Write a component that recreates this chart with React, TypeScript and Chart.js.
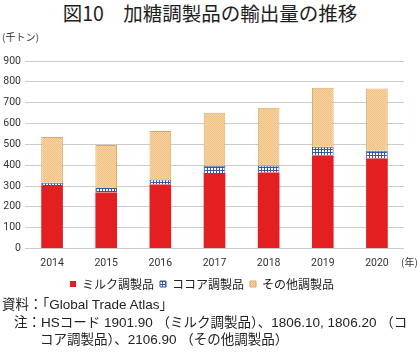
import React, { useEffect, useRef } from "react";
import { Chart, registerables } from "chart.js";

Chart.register(...registerables);

const years = ["2014", "2015", "2016", "2017", "2018", "2019", "2020"];
const milk = [300, 269, 307, 362, 365, 447, 432];
const cocoa = [16, 22, 24, 35, 34, 41, 37];
const other = [219, 206, 233, 255, 277, 284, 299];
const seriesNames = ["ミルク調製品", "ココア調製品", "その他調製品"];
const yTicks = [0, 100, 200, 300, 400, 500, 600, 700, 800, 900];

const JP = '"Noto Sans CJK JP", "Noto Sans", sans-serif';
const NUM = 'Roboto, "Liberation Sans", sans-serif';
const FOOT = '"Liberation Sans", "Noto Sans CJK JP", sans-serif';

function makeCocoaPattern(): CanvasPattern | string {
  const c = document.createElement("canvas");
  c.width = 3;
  c.height = 3;
  const g = c.getContext("2d");
  if (!g) return "#ffffff";
  g.fillStyle = "#ffffff";
  g.fillRect(0, 0, 3, 3);
  g.fillStyle = "#3556a6";
  g.fillRect(0, 0, 3, 1);
  g.fillRect(0, 0, 1, 3);
  return g.createPattern(c, "repeat") || "#ffffff";
}

function makeOtherPattern(): CanvasPattern | string {
  const c = document.createElement("canvas");
  c.width = 2;
  c.height = 2;
  const g = c.getContext("2d");
  if (!g) return "#f5c98c";
  g.fillStyle = "#f8d5a0";
  g.fillRect(0, 0, 2, 2);
  g.fillStyle = "#eec083";
  g.fillRect(0, 0, 1, 1);
  g.fillRect(1, 1, 1, 1);
  return g.createPattern(c, "repeat") || "#f5c98c";
}

function App() {
  const ref = useRef<HTMLCanvasElement | null>(null);

  useEffect(() => {
    if (!ref.current) return;
    const chart = new Chart(ref.current, {
      type: "bar",
      data: {
        labels: years,
        datasets: [
          {
            label: seriesNames[0],
            data: milk,
            backgroundColor: "#e31f21",
            borderColor: "#c8191b",
            borderWidth: 0,
            barPercentage: 0.8,
            categoryPercentage: 0.5,
          },
          {
            label: seriesNames[1],
            data: cocoa,
            backgroundColor: makeCocoaPattern() as any,
            borderColor: "#3556a6",
            borderWidth: 1,
            barPercentage: 0.8,
            categoryPercentage: 0.5,
          },
          {
            label: seriesNames[2],
            data: other,
            backgroundColor: makeOtherPattern() as any,
            borderColor: "#d9aa6a",
            borderWidth: 1,
            barPercentage: 0.8,
            categoryPercentage: 0.5,
          },
        ],
      },
      options: {
        animation: false,
        responsive: false,
        maintainAspectRatio: false,
        layout: { padding: { top: 11, right: 16, left: 0, bottom: 0 } },
        plugins: {
          tooltip: { enabled: false },
          legend: {
            position: "bottom",
            labels: {
              boxWidth: 6,
              boxHeight: 6,
              padding: 6,
              color: "#222",
              font: { family: JP, size: 12 },
            },
          },
        },
        scales: {
          x: {
            stacked: true,
            grid: { display: false, drawTicks: false },
            border: { display: false },
            ticks: {
              padding: 9,
              color: "#333",
              font: { family: NUM, size: 10.5 },
            },
            afterFit: (s: any) => {
              s.height = 23.5;
            },
          },
          y: {
            stacked: true,
            min: 0,
            max: 900,
            afterBuildTicks: (s: any) => {
              s.ticks = yTicks.map((v) => ({ value: v }));
            },
            grid: { color: "#cccccc", lineWidth: 1, drawTicks: false },
            border: { display: false },
            ticks: {
              padding: 4,
              color: "#333",
              font: { family: NUM, size: 10.5 },
            },
            afterFit: (s: any) => {
              s.width = 25;
            },
          },
        },
      },
    });
    return () => chart.destroy();
  }, []);

  return (
    <div
      style={{
        position: "fixed",
        left: 0,
        top: 0,
        width: 420,
        height: 352,
        background: "#fff",
        overflow: "hidden",
        fontFamily: JP,
        color: "#222",
      }}
    >
      <div
        style={{
          position: "absolute",
          left: 0,
          top: 1,
          width: 420,
          textAlign: "center",
          fontSize: 19.5,
          fontWeight: 400,
          lineHeight: "24px",
          color: "#1e1e1e",
          whiteSpace: "nowrap",
        }}
      >
        図10　加糖調製品の輸出量の推移
      </div>
      <div
        style={{
          position: "absolute",
          left: 2,
          top: 30,
          fontSize: 10,
          lineHeight: "14px",
          color: "#333",
          whiteSpace: "nowrap",
        }}
      >
        (千トン)
      </div>
      <canvas
        ref={ref}
        width={420}
        height={250}
        style={{ position: "absolute", left: 0, top: 50, width: 420, height: 250 }}
      />
      <div
        style={{
          position: "absolute",
          left: 401,
          top: 255,
          fontSize: 10,
          lineHeight: "14px",
          color: "#333",
          whiteSpace: "nowrap",
        }}
      >
        (年)
      </div>
      <div
        style={{
          position: "absolute",
          left: 2,
          top: 296,
          fontSize: 13.5,
          lineHeight: "17.5px",
          color: "#222",
          whiteSpace: "nowrap",
          fontFamily: FOOT,
        }}
      >
        <div>資料：「Global Trade Atlas」</div>
        <div style={{ paddingLeft: 12 }}>
          注：HSコード 1901.90 （ミルク調製品）、1806.10, 1806.20 （コ
        </div>
        <div style={{ paddingLeft: 38 }}>コア調製品）、2106.90 （その他調製品）</div>
      </div>
    </div>
  );
}

export default App;
